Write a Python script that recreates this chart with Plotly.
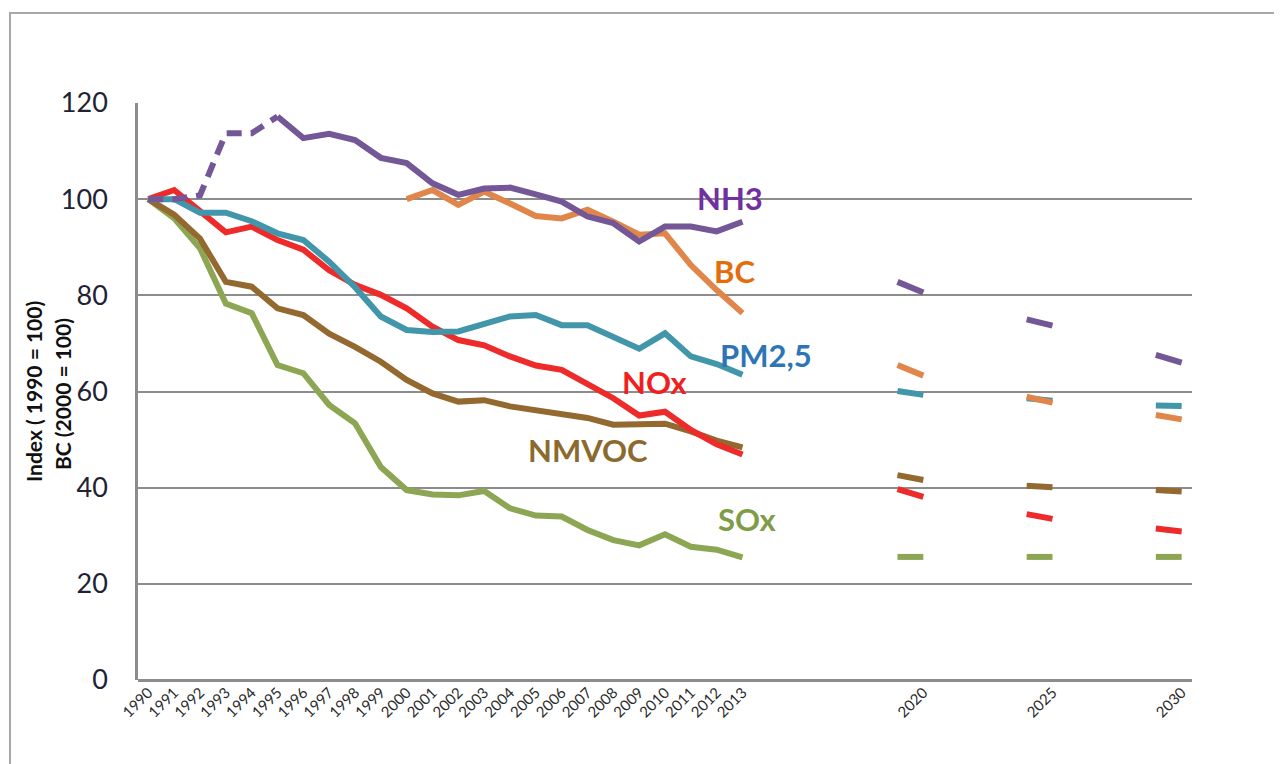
import plotly.graph_objects as go

years = list(range(1990, 2014))
bc_years = list(range(2000, 2014))

nh3 = [100, 100, 100.8, 113.7, 113.7, 117.2, 112.7, 113.6, 112.3, 108.6, 107.5, 103.3, 100.9, 102.2,
       102.4, 101.0, 99.5, 96.4, 95.0, 91.2, 94.3, 94.3, 93.3, 95.3]
bc = [100, 101.9, 98.8, 101.6, 99.1, 96.5, 96.0, 97.8, 95.3, 92.6, 92.9, 86.3, 81.1, 76.3]
pm25 = [100, 100, 97.2, 97.2, 95.4, 92.9, 91.5, 87.0, 81.7, 75.6, 72.8, 72.4, 72.5, 74.2,
        75.6, 75.9, 73.8, 73.8, 71.2, 68.9, 72.1, 67.3, 65.7, 63.5]
nox = [100, 101.9, 97.5, 93.1, 94.3, 91.5, 89.5, 85.2, 82.2, 80.1, 77.3, 73.5, 70.7, 69.6,
       67.3, 65.4, 64.5, 61.7, 58.6, 55.0, 55.8, 52.0, 49.0, 46.9]
nmvoc = [100, 96.8, 91.8, 82.8, 81.8, 77.3, 75.9, 72.0, 69.3, 66.2, 62.4, 59.6, 57.9, 58.2,
         56.9, 56.1, 55.5, 54.5, 53.1, 53.1, 53.3, 51.7, 49.8, 48.4]
sox = [100, 96.0, 89.8, 78.3, 76.3, 65.5, 63.8, 57.2, 53.4, 44.3, 39.5, 38.6, 38.4, 39.3,
       35.7, 34.2, 34.0, 31.2, 29.1, 28.0, 30.3, 27.7, 27.1, 25.5]

# projections: short segments drawn from (year-1) to year
proj_years = [2020, 2025, 2030]
nh3_proj_from = [82.8, 75.0, 67.6]
nh3_proj_to = [80.6, 73.7, 66.0]
bc_proj_from = [65.5, 58.9, 55.1]
bc_proj_to = [63.3, 57.7, 54.2]
pm25_proj_from = [60.1, 58.6, 57.1]
pm25_proj_to = [59.3, 58.1, 57.0]
nox_proj_from = [39.7, 34.5, 31.5]
nox_proj_to = [38.1, 33.5, 30.9]
nmvoc_proj_from = [42.6, 40.4, 39.5]
nmvoc_proj_to = [41.6, 40.1, 39.2]
sox_proj_from = [25.6, 25.6, 25.6]
sox_proj_to = [25.6, 25.6, 25.6]

tick_years = years + proj_years
tick_labels = [str(y) for y in tick_years]

colors = {
    "NH3": "#735796", "BC": "#E0864A", "PM2,5": "#4296AA",
    "NOx": "#EE2B2B", "NMVOC": "#93692F", "SOx": "#8DA653",
}
label_colors = {
    "NH3": "#7030A0", "BC": "#E46C0A", "PM2,5": "#2E75B6",
    "NOx": "#F02020", "NMVOC": "#8B6A2E", "SOx": "#7F9C48",
}
label_pos = {
    "NH3": (2012.5, 100.2), "BC": (2012.7, 85.0), "PM2,5": (2013.9, 67.6),
    "NOx": (2009.6, 62.0), "NMVOC": (2007.0, 47.8), "SOx": (2013.2, 33.5),
}

LW = 6
fig = go.Figure()


def proj_xy(f, t):
    xs, ys = [], []
    for yr, a, b in zip(proj_years, f, t):
        xs += [yr - 1, yr, None]
        ys += [a, b, None]
    return xs, ys


fig.add_trace(go.Scatter(x=years, y=sox, mode="lines", line=dict(color=colors["SOx"], width=LW)))
fig.add_trace(go.Scatter(x=years, y=nmvoc, mode="lines", line=dict(color=colors["NMVOC"], width=LW)))
fig.add_trace(go.Scatter(x=years, y=nox, mode="lines", line=dict(color=colors["NOx"], width=LW)))
fig.add_trace(go.Scatter(x=years, y=pm25, mode="lines", line=dict(color=colors["PM2,5"], width=LW)))
fig.add_trace(go.Scatter(x=bc_years, y=bc, mode="lines", line=dict(color=colors["BC"], width=LW)))
fig.add_trace(go.Scatter(x=years[:6], y=nh3[:6], mode="lines",
                         line=dict(color=colors["NH3"], width=LW, dash="15px,9px")))
fig.add_trace(go.Scatter(x=years[5:], y=nh3[5:], mode="lines", line=dict(color=colors["NH3"], width=LW)))

for name, f, t in [("SOx", sox_proj_from, sox_proj_to), ("NMVOC", nmvoc_proj_from, nmvoc_proj_to),
                   ("NOx", nox_proj_from, nox_proj_to), ("PM2,5", pm25_proj_from, pm25_proj_to),
                   ("BC", bc_proj_from, bc_proj_to), ("NH3", nh3_proj_from, nh3_proj_to)]:
    xs, ys = proj_xy(f, t)
    fig.add_trace(go.Scatter(x=xs, y=ys, mode="lines", line=dict(color=colors[name], width=LW)))

for name, (lx, ly) in label_pos.items():
    fig.add_annotation(x=lx, y=ly, text=name, showarrow=False, xanchor="center", yanchor="middle",
                       font=dict(family="Lato", size=31, color=label_colors[name], weight="bold"))

# Screen plot area: x 138..1192, y 103..680 (page body has an 8px margin)
PX0, PX1, PY0, PY1 = 138, 1192, 103, 680
W, H = PX1 - PX0, PY1 - PY0

fig.add_annotation(xref="paper", yref="paper", x=(33 - PX0) / W, y=(PY1 - 392) / H,
                   xanchor="center", yanchor="middle",
                   text="Index ( 1990 = 100)", textangle=-90, showarrow=False,
                   font=dict(family="Lato", size=21, color="#111111", weight="bold"))
fig.add_annotation(xref="paper", yref="paper", x=(62 - PX0) / W, y=(PY1 - 394) / H,
                   xanchor="center", yanchor="middle",
                   text="BC (2000 = 100)", textangle=-90, showarrow=False,
                   font=dict(family="Lato", size=21, color="#111111", weight="bold"))

# outer frame
fig.add_shape(type="rect", xref="paper", yref="paper",
              x0=(10 - PX0) / W, x1=(1320 - PX0) / W,
              y0=(PY1 - 800) / H, y1=(PY1 - 13) / H,
              line=dict(color="#A8A8A8", width=2), fillcolor="rgba(0,0,0,0)", layer="below")

fig.update_layout(
    width=1274, height=756,
    margin=dict(l=PX0 - 8, r=1274 - (PX0 - 8) - W, t=PY0 - 8, b=756 - (PY0 - 8) - H, autoexpand=False),
    paper_bgcolor="white", plot_bgcolor="white",
    showlegend=False,
    font=dict(family="Lato", color="#222222"),
)
fig.update_xaxes(
    range=[1989.6, 2030.4], tickvals=tick_years, ticktext=tick_labels, tickangle=-45,
    tickfont=dict(family="Lato", size=15, color="#2A2A2A"),
    showgrid=False, zeroline=False, showline=False, ticks="", automargin=False,
)
fig.update_yaxes(
    range=[0, 120], dtick=20, tickfont=dict(family="Lato", size=27, color="#222233"),
    showgrid=True, gridcolor="#8C8C8C", gridwidth=2,
    zeroline=True, zerolinecolor="#8C8C8C", zerolinewidth=2.5,
    showline=True, linecolor="#8C8C8C", linewidth=2.5, ticks="outside", ticklen=22,
    tickcolor="rgba(0,0,0,0)", automargin=False,
)

fig.write_html("out.html")
